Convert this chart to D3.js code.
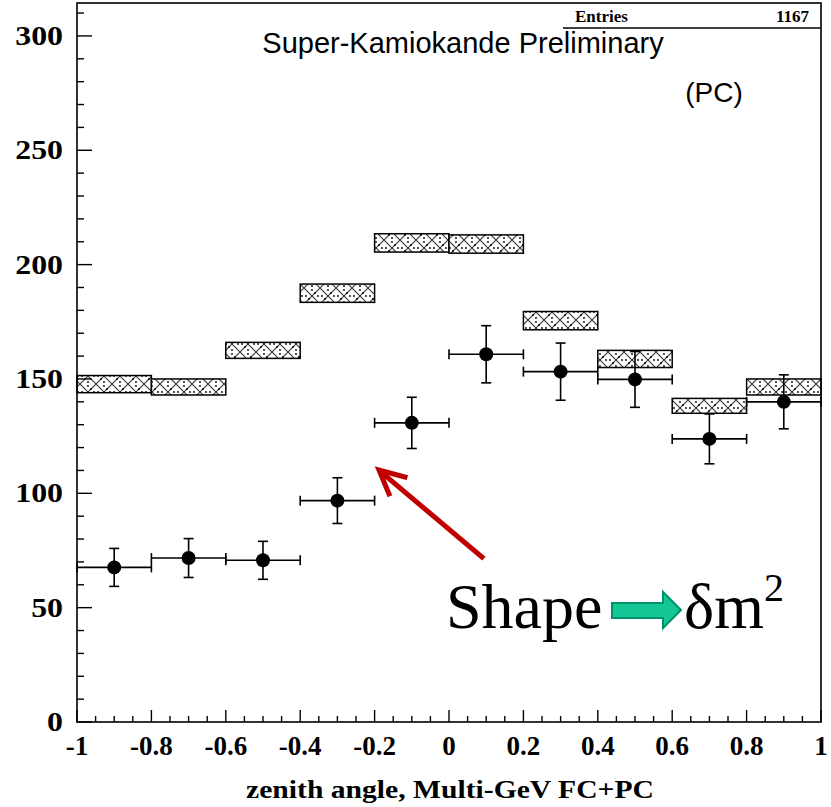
<!DOCTYPE html>
<html>
<head>
<meta charset="utf-8">
<script src="https://cdn.jsdelivr.net/npm/d3@7"></script>
<style>
  body { margin: 0; background: #fff; }
  svg { display: block; }
</style>
</head>
<body>
<div id="chart"></div>
<script>
// zenith angle bins (centres, width 0.2)
var binCentres = [-0.9, -0.7, -0.5, -0.3, -0.1, 0.1, 0.3, 0.5, 0.7, 0.9];
var binHalf = 0.1;
// MC expectation boxes (low / high edge)
var mcLow  = [144, 143, 159, 183.5, 205.5, 205, 171.5, 155, 135, 143];
var mcHigh = [151.5, 150, 166, 191.5, 213.5, 213, 179.5, 162.5, 141.5, 150];
// data points and errors
var dataVal = [67.6, 71.7, 70.7, 96.8, 130.8, 160.8, 153.2, 149.8, 123.8, 140];
var dataErr = [8.3, 8.5, 8.3, 10, 11.2, 12.5, 12.5, 12.2, 10.9, 11.8];
// tick labels
var xTickVals = [-1, -0.8, -0.6, -0.4, -0.2, 0, 0.2, 0.4, 0.6, 0.8, 1];
var yTickVals = [0, 50, 100, 150, 200, 250, 300];

(function() {
var W = 831, H = 807;
var pL = 77, pR = 821, pT = 3, pB = 722;

var x = d3.scaleLinear().domain([-1, 1]).range([pL, pR]);
var y = d3.scaleLinear().domain([0, 314.4]).range([pB, pT]);

var svg = d3.select("#chart").append("svg")
    .attr("width", W).attr("height", H);

// crosshatch pattern for MC boxes
var defs = svg.append("defs");
var pat = defs.append("pattern")
    .attr("id", "hatch")
    .attr("patternUnits", "userSpaceOnUse")
    .attr("width", 16).attr("height", 16);
pat.append("rect").attr("width", 16).attr("height", 16).attr("fill", "#fff");
pat.append("path").attr("d", "M0,0L16,16M16,0L0,16")
    .attr("stroke", "#333").attr("stroke-width", 1.1);
pat.selectAll("circle").data([[8, 2], [2, 8], [14, 8], [8, 14], [5, 11], [11, 5]]).enter()
    .append("circle")
    .attr("cx", function(d) { return d[0]; })
    .attr("cy", function(d) { return d[1]; })
    .attr("r", 0.9).attr("fill", "#000");

// MC boxes
svg.selectAll("rect.mc").data(binCentres).enter()
    .append("rect")
    .attr("class", "mc")
    .attr("x", function(d) { return x(d - binHalf); })
    .attr("width", function(d) { return x(d + binHalf) - x(d - binHalf); })
    .attr("y", function(d, i) { return y(mcHigh[i]); })
    .attr("height", function(d, i) { return y(mcLow[i]) - y(mcHigh[i]); })
    .attr("fill", "url(#hatch)")
    .attr("stroke", "#000").attr("stroke-width", 1.5);

// data error bars
var g = svg.append("g").attr("stroke", "#000").attr("stroke-width", 1.6);
binCentres.forEach(function(c, i) {
    var cx = x(c), cy = y(dataVal[i]);
    var x0 = x(c - binHalf), x1 = x(c + binHalf);
    var yt = y(dataVal[i] + dataErr[i]), yb = y(dataVal[i] - dataErr[i]);
    g.append("line").attr("x1", x0).attr("x2", x1).attr("y1", cy).attr("y2", cy);
    g.append("line").attr("x1", x0).attr("x2", x0).attr("y1", cy - 5).attr("y2", cy + 5);
    g.append("line").attr("x1", x1).attr("x2", x1).attr("y1", cy - 5).attr("y2", cy + 5);
    g.append("line").attr("x1", cx).attr("x2", cx).attr("y1", yt).attr("y2", yb);
    g.append("line").attr("x1", cx - 5).attr("x2", cx + 5).attr("y1", yt).attr("y2", yt);
    g.append("line").attr("x1", cx - 5).attr("x2", cx + 5).attr("y1", yb).attr("y2", yb);
});
svg.selectAll("circle.pt").data(binCentres).enter()
    .append("circle")
    .attr("class", "pt")
    .attr("cx", function(d) { return x(d); })
    .attr("cy", function(d, i) { return y(dataVal[i]); })
    .attr("r", 7).attr("fill", "#000");

// frame
svg.append("rect")
    .attr("x", pL).attr("y", pT)
    .attr("width", pR - pL).attr("height", pB - pT)
    .attr("fill", "none").attr("stroke", "#000").attr("stroke-width", 1.6);

// ticks drawn inward
var xMinor = d3.range(0, 41).map(function(k) { return -1 + k * 0.05; });
svg.append("g").selectAll("line").data(xMinor).enter()
    .append("line")
    .attr("x1", function(d) { return x(d); })
    .attr("x2", function(d) { return x(d); })
    .attr("y1", pB)
    .attr("y2", function(d, k) { return k % 4 === 0 ? pB - 12 : pB - 6; })
    .attr("stroke", "#000").attr("stroke-width", 1.4);

var yMinor = d3.range(0, 311, 10);
svg.append("g").selectAll("line").data(yMinor).enter()
    .append("line")
    .attr("x1", pL)
    .attr("x2", function(d) { return d % 50 === 0 ? pL + 15 : pL + 7; })
    .attr("y1", function(d) { return y(d); })
    .attr("y2", function(d) { return y(d); })
    .attr("stroke", "#000").attr("stroke-width", 1.4);

var serif = "'Liberation Serif', 'Times New Roman', serif";
var sans = "'Liberation Sans', Arial, sans-serif";

// tick labels
svg.append("g").selectAll("text").data(yTickVals).enter()
    .append("text")
    .attr("transform", function(d) { return "translate(63," + (y(d) + 9) + ") scale(1.18,1)"; })
    .attr("text-anchor", "end")
    .style("font-family", serif)
    .style("font-weight", "bold")
    .style("font-size", "27px")
    .text(function(d) { return d; });

svg.append("g").selectAll("text").data(xTickVals).enter()
    .append("text")
    .attr("x", function(d) { return x(d); })
    .attr("y", 755)
    .attr("text-anchor", "middle")
    .style("font-family", serif)
    .style("font-weight", "bold")
    .style("font-size", "27px")
    .text(function(d) { return d; });

svg.append("text")
    .attr("transform", "translate(450,798) scale(1.14,1)")
    .attr("text-anchor", "middle")
    .style("font-family", serif)
    .style("font-weight", "bold")
    .style("font-size", "26px")
    .text("zenith angle, Multi-GeV FC+PC");

// stats box
svg.append("line")
    .attr("x1", 563).attr("x2", pR).attr("y1", 28).attr("y2", 28)
    .attr("stroke", "#000").attr("stroke-width", 1.4);
svg.append("text")
    .attr("x", 575).attr("y", 22)
    .style("font-family", serif)
    .style("font-weight", "bold").style("font-size", "17px")
    .text("Entries");
svg.append("text")
    .attr("x", 809).attr("y", 22).attr("text-anchor", "end")
    .style("font-family", serif)
    .style("font-weight", "bold").style("font-size", "17px")
    .text("1167");

// titles inside the plot
svg.append("text")
    .attr("x", 463).attr("y", 53).attr("text-anchor", "middle")
    .style("font-family", sans)
    .style("font-size", "29px")
    .text("Super-Kamiokande Preliminary");
svg.append("text")
    .attr("x", 714).attr("y", 102).attr("text-anchor", "middle")
    .style("font-family", sans)
    .style("font-size", "28px")
    .text("(PC)");

// red arrow annotation
var red = svg.append("g").attr("stroke", "#c00000").attr("stroke-width", 5)
    .attr("fill", "none").attr("stroke-linecap", "square");
red.append("line").attr("x1", 482).attr("y1", 557).attr("x2", 381).attr("y2", 472);
red.append("path").attr("d", "M405,477L379,470L389,494");

// "Shape -> dm^2"
svg.append("text")
    .attr("x", 446).attr("y", 628)
    .style("font-family", serif).style("font-size", "64px")
    .text("Shape");
svg.append("path")
    .attr("d", "M612,603L663,603L663,592L681,610L663,628L663,618L612,618Z")
    .attr("fill", "#14c896").attr("stroke", "#00906a").attr("stroke-width", 2);
var dm = svg.append("text")
    .attr("x", 684).attr("y", 628)
    .style("font-family", serif).style("font-size", "64px");
dm.append("tspan").text("\u03b4m");
dm.append("tspan").attr("dy", -27).style("font-size", "40px").text("2");
})();
</script>
</body>
</html>
